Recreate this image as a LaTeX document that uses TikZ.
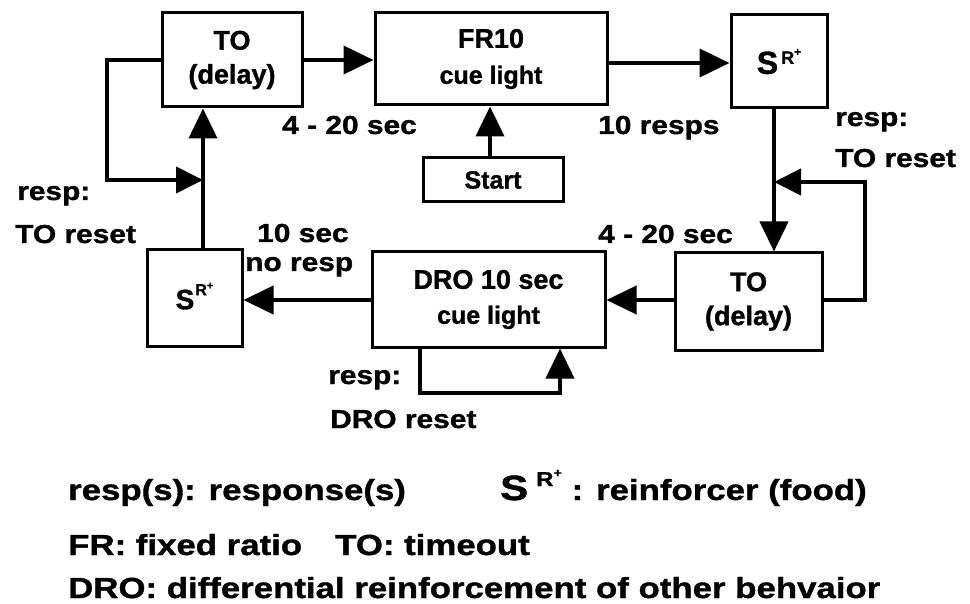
\documentclass[tikz,border=0pt]{standalone}
\usepackage{fontspec}
\setmainfont{Liberation Sans}
\newfontfamily\boxfont{Liberation Sans}[BoldFeatures={FakeBold=1.2}]
\newfontfamily\labfont{Liberation Sans}[FakeStretch=1.15,BoldFeatures={FakeBold=1.2}]
\newfontfamily\legfont{Liberation Sans}[FakeStretch=1.2,BoldFeatures={FakeBold=1.2}]
\usetikzlibrary{arrows.meta}
\newcommand{\SRtop}{{\fontsize{32}{32}\selectfont S}\hspace{3pt}\raisebox{10pt}{\fontsize{18}{18}\selectfont R\raisebox{8pt}{\fontsize{12}{12}\selectfont +}}}
\newcommand{\SRlow}{{\fontsize{28}{28}\selectfont S}\hspace{1pt}\raisebox{14pt}{\fontsize{16}{16}\selectfont R\raisebox{6pt}{\fontsize{11}{11}\selectfont +}}}
\newcommand{\SRleg}{{\fontsize{35}{35}\selectfont S}\hspace{8pt}\raisebox{14pt}{\fontsize{20}{20}\selectfont R\raisebox{9pt}{\fontsize{12}{12}\selectfont +}}}
\begin{document}
\begin{tikzpicture}[x=1pt,y=-1pt,
  box/.style={draw, line width=3pt, inner sep=0pt, align=center,
    font=\boxfont\bfseries\fontsize{27}{34}\selectfont},
  lab/.style={inner sep=0pt, anchor=base west,
    font=\labfont\bfseries\fontsize{26}{30}\selectfont},
  leg/.style={inner sep=0pt, anchor=base west,
    font=\legfont\bfseries\fontsize{29}{31}\selectfont},
  conn/.style={line width=4pt, -{Triangle[length=30pt,width=28pt]}},
  connsm/.style={line width=4pt, -{Triangle[length=27pt,width=26pt]}},
]
\fill[white] (0,0) rectangle (970,604);
\useasboundingbox (0,0) rectangle (970,604);

% boxes
\node[box, minimum width=140pt, minimum height=94pt] (TO1) at (232,60) {TO\\(delay)};
\node[box, minimum width=232pt, minimum height=92pt] (FR) at (491,59) {FR10\\[2pt]{\fontsize{25}{25}\selectfont cue light}};
\node[box, minimum width=96pt, minimum height=93pt] (S1) at (779,61.5) {\SRtop};
\node[box, minimum width=140pt, minimum height=44pt, font=\boxfont\bfseries\fontsize{25}{25}\selectfont] (Start) at (493,180) {Start};
\node[box, minimum width=147pt, minimum height=97pt] (TO2) at (748.5,301.5) {TO\\(delay)};
\node[box, minimum width=233pt, minimum height=95pt] (DRO) at (488.5,299.5) {DRO 10 sec\\[1pt]{\fontsize{25}{25}\selectfont cue light}};
\node[box, minimum width=95pt, minimum height=96pt] (S2) at (194.5,298) {\raisebox{4pt}{\SRlow}};

% junction coordinates
\coordinate (L1) at (107,60);
\coordinate (V1) at (203,180);
\coordinate (V2) at (774,182);
\coordinate (R1) at (865,300);
\coordinate (D1) at (420,393);
\coordinate (D2) at (560,393);

% connectors
\draw[conn] (TO1.east) -- (TO1.east -| FR.west);
\draw[conn] (FR.east |- 0,63) -- (S1.west |- 0,63);
\draw[conn] (Start.north -| 490,0) -- (FR.south -| 490,0);
\draw[conn] (S1.south -| V2) -- (TO2.north -| V2);
\draw[connsm] (TO2.east |- R1) -- (R1) |- (V2);
\draw[conn] (TO2.west |- 0,300) -- (DRO.east |- 0,300);
\draw[conn] (DRO.west |- 0,300) -- (S2.east |- 0,300);
\draw[conn] (DRO.south -| D1) -- (D1) -- (D2) -- (DRO.south -| D2);
\draw[conn] (S2.north -| V1) -- (TO1.south -| V1);
\draw[connsm] (TO1.west) -- (L1) |- (V1);

% labels
\node[lab] (l1) at (282,134) {4 - 20 sec};
\node[lab] (l2) at (598,134) {10 resps};
\node[lab] (l3) at (835,126) {resp:};
\node[lab] (l4) at (835,167) {TO reset};
\node[lab] (l5) at (17,200) {resp:};
\node[lab] (l6) at (15,243) {TO reset};
\node[lab] (l7) at (257,242) {10 sec};
\node[lab] (l8) at (245,271) {no resp};
\node[lab] (l9) at (598,243) {4 - 20 sec};
\node[lab] (l10) at (328,384) {resp:};
\node[lab] (l11) at (330,428) {DRO reset};

% legend
\node[leg] (g1) at (68,500) {resp(s): response(s)};
\node[leg] (g2) at (500,500) {\SRleg\ : reinforcer (food)};
\node[leg] (g3) at (68,555) {FR: fixed ratio};
\node[leg] (g4) at (335,555) {TO: timeout};
\node[leg] (g5) at (68,598) {DRO: differential reinforcement of other behvaior};
\end{tikzpicture}
\end{document}
